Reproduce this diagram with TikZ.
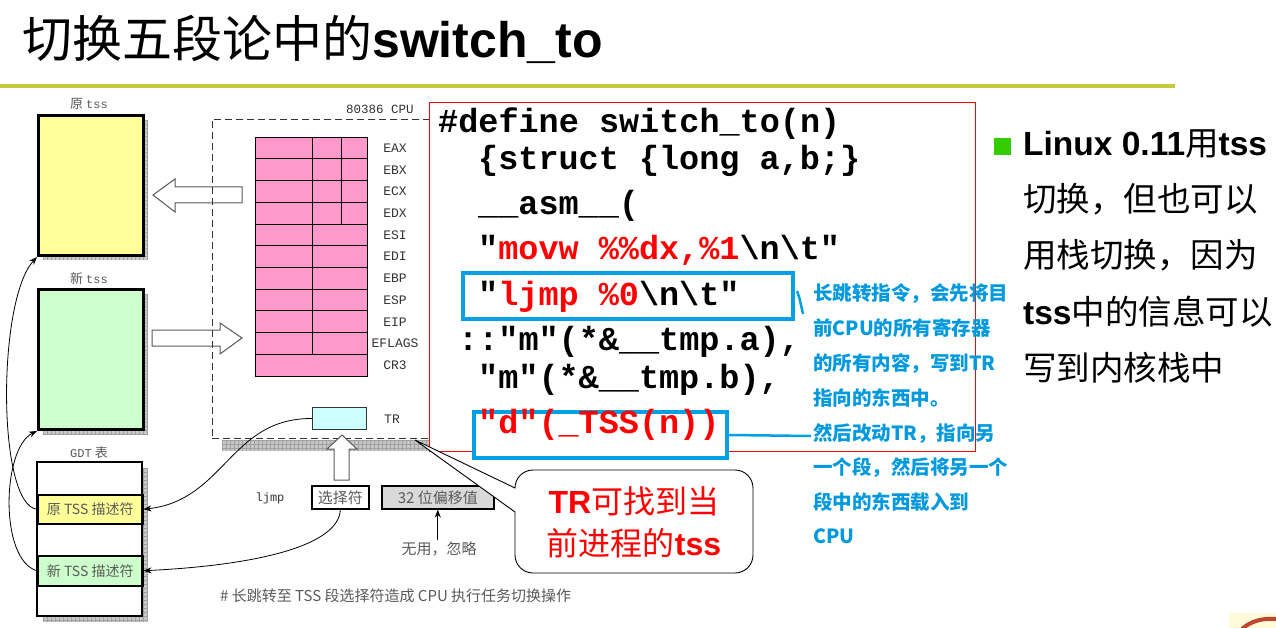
\documentclass[tikz,border=0pt]{standalone}
\usepackage{fontspec}
\setmainfont{Liberation Sans}
\newfontfamily\cjkfont{Noto Sans CJK SC}
\newfontfamily\codefont{Liberation Mono}
\usetikzlibrary{arrows.meta}

\definecolor{olivebar}{RGB}{198,200,62}
\definecolor{tssyellow}{RGB}{255,255,153}
\definecolor{tssgreen}{RGB}{204,255,204}
\definecolor{regpink}{RGB}{255,153,204}
\definecolor{trcyan}{RGB}{204,255,255}
\definecolor{diagtext}{RGB}{90,90,90}
\definecolor{boxblue}{RGB}{0,160,227}
\definecolor{noteblue}{RGB}{0,153,221}
\definecolor{bulletgreen}{RGB}{51,204,0}
\definecolor{shadefill}{RGB}{200,200,200}
\definecolor{shadeline}{RGB}{160,160,160}
\definecolor{ornpaper}{RGB}{255,250,215}
\definecolor{ornred}{RGB}{190,70,50}

% hatched drop shadow: x1 y1 x2 y2
\newcommand{\hatchshade}[4]{%
  \begin{scope}
    \clip (#1,#2) rectangle (#3,#4);
    \fill[shadefill] (#1,#2) rectangle (#3,#4);
    \foreach \xx in {0,4,...,232} \draw[shadeline,line width=0.5] ({#1+\xx},#2) -- ({#1+\xx},#4);
    \foreach \yy in {0,4,...,180} \draw[shadeline,line width=0.5] (#1,{#2+\yy}) -- (#3,{#2+\yy});
  \end{scope}}

\begin{document}
\begin{tikzpicture}[x=1pt,y=-1pt,
  tssbox/.style={draw=black,line width=3,inner sep=0,anchor=north west,minimum width=105},
  rowbox/.style={draw=black,line width=1.5,inner sep=0,anchor=north west,minimum width=105,
    text=diagtext,font=\cjkfont\fontsize{14}{14}\selectfont},
  dlabel/.style={inner sep=0,text=diagtext,font=\cjkfont\fontsize{13}{13}\selectfont},
  reglabel/.style={inner sep=0,text=black!80,font=\codefont\fontsize{13}{13}\selectfont},
  cpubox/.style={draw=black!80,dash pattern=on 7pt off 4pt,line width=0.8,inner sep=0,anchor=north west},
  fatarrow/.style={draw=black!65,fill=white,line width=1},
  thin/.style={draw=black,line width=0.8},
  tip/.style={-{Stealth[length=8pt,width=6pt]}},
  codeline/.style={anchor=base west,inner sep=0,font=\codefont\bfseries\fontsize{33.5}{33.5}\selectfont},
  bluebox/.style={draw=boxblue,line width=4,fill=white,inner sep=0,anchor=north west},
  note/.style={anchor=base west,inner sep=0,text=noteblue,font=\cjkfont\bfseries\fontsize{19.5}{19.5}\selectfont},
  bigtext/.style={anchor=base west,inner sep=0,font=\fontsize{33.5}{33.5}\selectfont},
  bubbletext/.style={anchor=base,inner sep=0,text=red,font=\fontsize{32}{32}\selectfont}]

\useasboundingbox (0,0) rectangle (1276,628);
\fill[white] (0,0) rectangle (1276,628);

% ---------- heading ----------
\node[anchor=base west,inner sep=0] (title) at (22,58)
  {{\cjkfont\fontsize{50}{50}\selectfont 切换五段论中的}{\fontsize{50}{50}\selectfont\bfseries switch\_to}};
\fill[olivebar] (0,84) rectangle (1175,88);

% ---------- task state segments ----------
\hatchshade{43}{120}{148}{260}
\node[tssbox,fill=tssyellow,minimum height=140] (oldtss) at (37,114) {};
\node[dlabel] (oldlbl) at (89,104) {原 {\codefont\fontsize{12}{12}\selectfont tss}};

\hatchshade{43}{294}{148}{434}
\node[tssbox,fill=tssgreen,minimum height=140] (newtss) at (37,288) {};
\node[dlabel] (newlbl) at (89,279) {新 {\codefont\fontsize{12}{12}\selectfont tss}};

% ---------- GDT ----------
\hatchshade{43}{468}{148}{622}
\fill[white] (37,462) rectangle (142,616);
\node[rowbox,fill=tssyellow,minimum height=29] (oldrow) at (37,494) {原 TSS 描述符};
\node[rowbox,fill=tssgreen,minimum height=30] (newrow) at (37,555) {新 TSS 描述符};
\draw[line width=2] (37,462) rectangle (142,616);
\node[dlabel] (gdtlbl) at (89,453) {{\codefont\fontsize{12}{12}\selectfont GDT} 表};

% ---------- save / load block arrows ----------
\draw[fatarrow] (153,195) -- (175,179) -- (175,187) -- (242,187) -- (242,203) -- (175,203) -- (175,212) -- cycle;
\draw[fatarrow] (242,338) -- (220,323) -- (220,330) -- (152,330) -- (152,346) -- (220,346) -- (220,354) -- cycle;

% ---------- CPU ----------
\hatchshade{222}{440}{431}{451}
\node[cpubox,minimum width=219,minimum height=319] (cpu) at (212,119) {};
\node[inner sep=0,text=black!80,font=\codefont\fontsize{12.5}{12.5}\selectfont] (cpulbl) at (380,109) {80386 CPU};

\foreach \i in {0,...,10}
  \draw[fill=regpink,line width=0.8] (255,{137+\i*21.73}) rectangle (367,{137+(\i+1)*21.73});
\draw[line width=0.8] (312,137) -- (312,354.3);
\draw[line width=0.8] (341,137) -- (341,223.9);
\foreach \r [count=\i from 0] in {EAX,EBX,ECX,EDX,ESI,EDI,EBP,ESP,EIP,EFLAGS,CR3}
  \node[reglabel] (reg\i) at (395,{148+\i*21.73}) {\r};

\node[draw=black!80,fill=trcyan,line width=1,inner sep=0,anchor=north west,
  minimum width=54,minimum height=22] (tr) at (312,407) {};
\node[reglabel] (trlbl) at (392,419) {TR};

\draw[fatarrow] (342,435) -- (357,449) -- (349,449) -- (349,480) -- (334,480) -- (334,449) -- (327,449) -- cycle;

% ---------- ljmp operand ----------
\node[inner sep=0,text=black!80,font=\codefont\fontsize{12}{12}\selectfont] (ljmp) at (270,498) {ljmp};
\node[draw=black,line width=1.6,inner sep=0,anchor=north west,minimum width=57,minimum height=23,
  text=diagtext,font=\cjkfont\fontsize{15}{15}\selectfont] (sel) at (311,485) {选择符};
\node[draw=black,line width=1.6,fill=black!15,inner sep=0,anchor=north west,minimum width=112,minimum height=23,
  text=diagtext,font=\cjkfont\fontsize{15}{15}\selectfont] (off) at (381,485) {32 位偏移值};
\node[inner sep=0,text=diagtext,font=\cjkfont\fontsize{15}{15}\selectfont] (unused) at (439,549) {无用，忽略};
\draw[thin,tip] (unused.north -| off.south) ++(0,-2) -- (off.south);

\node[anchor=west,inner sep=0,text=diagtext,font=\cjkfont\fontsize{15}{15}\selectfont] (caption) at (220,596)
  {\# 长跳转至 TSS 段选择符造成 CPU 执行任务切换操作};

% ---------- descriptor links ----------
\draw[thin,tip] (tr.west) .. controls (230,418) and (225,500) .. (oldrow.east);
\draw[thin,tip] (sel.south) .. controls (339,545) and (260,565) .. (newrow.east);
\draw[thin,tip] (oldrow.west) .. controls (-3,505) and (-3,300) .. (oldtss.south west);
\draw[thin,tip] (newrow.west) .. controls (-1,560) and (2,448) .. (newtss.south west);

% ---------- source of switch_to ----------
\node[draw=red,fill=white,line width=1,inner sep=0,anchor=north west,
  minimum width=546,minimum height=349] (codebox) at (429,102) {};
\node[bluebox,minimum width=330,minimum height=46] (ljbox) at (461,271) {};
\node[bluebox,minimum width=253,minimum height=46] (tssbox) at (472,410) {};

\node[codeline] (c1) at (438,133) {\#define switch\_to(n)};
\node[codeline] (c2) at (478,170) {\{struct \{long a,b;\}};
\node[codeline] (c3) at (478,215) {\_\_asm\_\_(};
\node[codeline] (c4) at (478,260) {"\textcolor{red}{movw \%\%dx,\%1}\textbackslash n\textbackslash t"};
\node[codeline] (c5) at (478,305) {"\textcolor{red}{ljmp \%0}\textbackslash n\textbackslash t"};
\node[codeline] (c6) at (458,350) {::"m"(*\&\_\_tmp.a),};
\node[codeline] (c7) at (478,388) {"m"(*\&\_\_tmp.b),};
\node[codeline,text=red] (c8) at (478,433) {"d"(\_TSS(n))};

% ---------- notes ----------
\coordinate (ljend) at (803,314);
\draw[boxblue,line width=2.5] (ljbox.north east) ++(2,20) .. controls (799,296) .. (ljend);
\coordinate (tssend) at (811,436);
\draw[boxblue,line width=2.5] (tssbox.east) -- (tssend);

\node[note] (n1) at (813,300) {长跳转指令，会先将目};
\node[note] (n2) at (813,335) {前CPU的所有寄存器};
\node[note] (n3) at (813,370) {的所有内容，写到TR};
\node[note] (n4) at (813,405) {指向的东西中。};
\node[note] (n5) at (813,440) {然后改动TR，指向另};
\node[note] (n6) at (813,474) {一个段，然后将另一个};
\node[note] (n7) at (813,509) {段中的东西载入到};
\node[note] (n8) at (813,543) {CPU};

% ---------- callout ----------
\coordinate (calltip) at (415,440);
\draw[line width=0.9,fill=white] (515,488) [rounded corners=18] -- (515,470) -- (753,470) -- (753,573) -- (515,573)
  [sharp corners] -- (515,512) -- (calltip) -- cycle;
\node[bubbletext] (b1) at (634,513) {{\bfseries TR}{\cjkfont 可找到当}};
\node[bubbletext] (b2) at (634,555) {{\cjkfont 前进程的}{\bfseries tss}};

% ---------- bullet point ----------
\node[fill=bulletgreen,inner sep=0,minimum size=17] (bullet) at (1002,146.5) {};
\node[bigtext] (r1) at (1023,156) {{\bfseries Linux 0.11}{\cjkfont 用}{\bfseries tss}};
\node[bigtext] (r2) at (1023,212) {\cjkfont 切换，但也可以};
\node[bigtext] (r3) at (1023,268) {\cjkfont 用栈切换，因为};
\node[bigtext] (r4) at (1023,324) {{\bfseries tss}{\cjkfont 中的信息可以}};
\node[bigtext] (r5) at (1023,380) {\cjkfont 写到内核栈中};

% ---------- corner ornament ----------
\fill[ornpaper] (1229,613) rectangle (1276,628);
\draw[ornred,line width=4] (1240,631) .. controls (1250,620) and (1265,618) .. (1276,619);
\end{tikzpicture}
\end{document}
